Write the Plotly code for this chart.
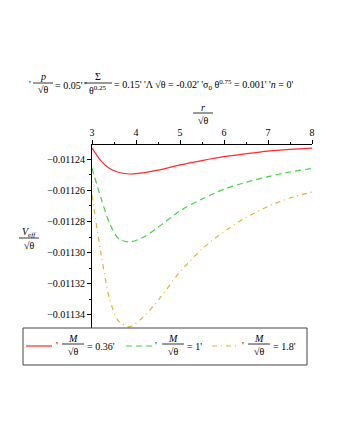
import plotly.graph_objects as go

# values
r_vals = [3.0, 3.2, 3.4, 3.6, 3.85, 4.2, 4.5, 5.0, 5.5, 6.0, 6.5, 7.0, 7.5, 8.0]
v_m036 = [-0.0112330, -0.0112410, -0.0112461, -0.0112485, -0.0112496, -0.0112487, -0.0112471,
          -0.0112438, -0.0112410, -0.0112385, -0.0112366, -0.0112349, -0.0112338, -0.0112330]
v_m1 = [-0.0112458, -0.0112647, -0.0112812, -0.0112910, -0.0112932, -0.0112897, -0.0112838,
        -0.0112733, -0.0112656, -0.0112594, -0.0112549, -0.0112513, -0.0112483, -0.0112460]
v_m18 = [-0.0112631, -0.0112999, -0.0113297, -0.0113438, -0.0113476, -0.0113403, -0.0113307,
         -0.0113124, -0.0112977, -0.0112865, -0.0112775, -0.0112704, -0.0112650, -0.0112612]

m_labels = ["0.36", "1", "1.8"]
colors = ["#ff2a2a", "#44d444", "#e6b030"]
dashes = ["solid", "6px,4px", "5px,4px,1px,4px"]
y_ticks = [-0.01124, -0.01126, -0.01128, -0.01130, -0.01132, -0.01134]

FONT = "Liberation Serif"
OFF = 8                          # the page body adds an 8px margin
L, R, T, B = 92, 312, 145, 329   # plot area in page pixels


def px(x):
    return (x - L) / (R - L)


def py(y):
    return (B - y) / (B - T)


fig = go.Figure()
for vals, c, d in zip([v_m036, v_m1, v_m18], colors, dashes):
    fig.add_trace(go.Scatter(x=r_vals, y=vals, mode="lines", showlegend=False,
                             line=dict(color=c, width=1.2, dash=d, shape="spline", smoothing=0.8)))

annots = []
shapes = []


def text(x, y, s, anchor="center"):
    annots.append(dict(x=px(x), y=py(y), xref="paper", yref="paper", text=s, showarrow=False,
                       xanchor=anchor, yanchor="middle", borderpad=0,
                       font=dict(family=FONT, size=10, color="black")))


def frac(cx, cy, num, den, w):
    text(cx, cy - 6, num)
    text(cx, cy + 7, den)
    shapes.append(dict(type="line", xref="paper", yref="paper", x0=px(cx - w / 2), x1=px(cx + w / 2),
                       y0=py(cy), y1=py(cy), line=dict(color="black", width=0.8)))


# title
text(30, 84, "'")
frac(43, 83, "<i>p</i>", "√θ", 20)
text(54, 85, "= 0.05' '", "left")
frac(98, 83, "Σ", "θ<sup>0.25</sup>", 28)
text(113, 85, "= 0.15' 'Λ √θ = -0.02' 'σ<sub>0</sub> θ<sup>0.75</sup> = 0.001' '<i>n</i> = 0'", "left")

# axis titles
frac(203, 113, "<i>r</i>", "√θ", 20)
frac(29, 238, "<i>V<sub>eff</sub></i>", "√θ", 20)

# legend
shapes.append(dict(type="rect", xref="paper", yref="paper", x0=px(23), x1=px(307), y0=py(328), y1=py(365),
                   line=dict(color="#444", width=1), fillcolor="white"))
samples = [(26, 57, 73, 86), (126, 156, 173, 186), (212, 243, 259, 272)]
for (sx, qx, fx, ex), c, d, m in zip(samples, colors, dashes, m_labels):
    shapes.append(dict(type="line", xref="paper", yref="paper", x0=px(sx), x1=px(sx + 26),
                       y0=py(346), y1=py(346), line=dict(color=c, width=1.2, dash=d)))
    text(qx, 345, "'")
    frac(fx, 344, "<i>M</i>", "√θ", 22)
    text(ex, 346, "= " + m + "'", "left")

fig.update_layout(
    width=340 - OFF, height=440 - OFF,
    margin=dict(l=L - OFF, r=340 - R, t=T - OFF, b=440 - B),
    paper_bgcolor="white", plot_bgcolor="white",
    showlegend=False,
    annotations=annots, shapes=shapes,
    xaxis=dict(range=[3, 8], side="top", dtick=1, ticks="outside", ticklen=4, tickcolor="black",
               minor=dict(dtick=0.5, ticks="outside", ticklen=2, tickcolor="black"),
               showline=True, linecolor="black", linewidth=1, showgrid=False, zeroline=False,
               tickfont=dict(family=FONT, size=10, color="black")),
    yaxis=dict(range=[-0.011349, -0.011231], tickvals=y_ticks, tickformat=".5f",
               ticks="outside", ticklen=4, tickcolor="black",
               minor=dict(dtick=0.00001, tick0=-0.01124, ticks="outside", ticklen=2, tickcolor="black"),
               showline=True, linecolor="black", linewidth=1, showgrid=False, zeroline=False,
               tickfont=dict(family=FONT, size=10, color="black")),
)

fig.write_html("out.html")
